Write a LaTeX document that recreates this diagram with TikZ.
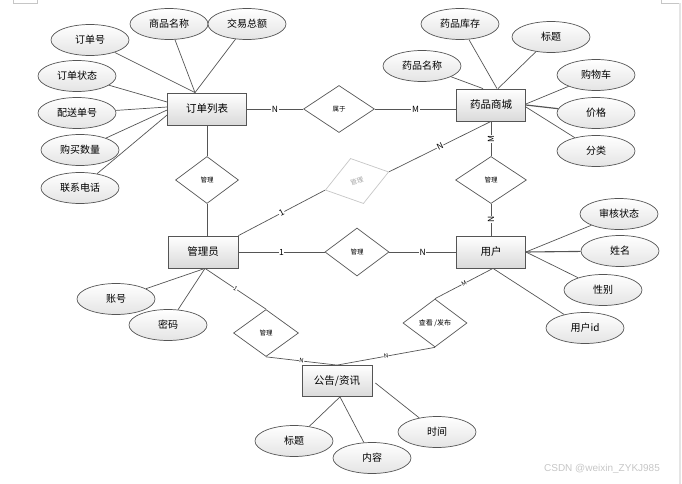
\documentclass[tikz,border=0pt]{standalone}
\usepackage{fontspec}
\setmainfont{Noto Sans CJK SC}
\newfontfamily\wmfont{Liberation Sans}
\usetikzlibrary{shapes.geometric,calc}
\definecolor{linec}{HTML}{555555}
\definecolor{boxb}{HTML}{DADADA}
\definecolor{ellb}{HTML}{E4E4E4}
\tikzset{
  ln/.style={draw=linec, line width=0.7pt},
  ent/.style={rectangle, draw=linec, line width=0.8pt, top color=white, bottom color=boxb, minimum width=70pt, minimum height=32pt, inner sep=0pt, font=\fontsize{10.5}{12}\selectfont},
  attr/.style={ellipse, draw=linec, line width=0.7pt, top color=white, bottom color=ellb, minimum width=78pt, minimum height=31pt, inner sep=0pt, font=\fontsize{10}{12}\selectfont},
  rel/.style={diamond, draw=linec, line width=0.7pt, fill=white, inner sep=0pt, font=\fontsize{6.5}{8}\selectfont},
  lbl/.style={fill=white, inner sep=0.6pt, font=\fontsize{8.5}{10}\selectfont},
  slbl/.style={fill=white, inner sep=0.3pt, font=\fontsize{6}{7}\selectfont},
}
\begin{document}
\begin{tikzpicture}[x=1pt,y=-1pt]
\useasboundingbox (0,0) rectangle (682,484);
% page marks
\draw[gray!45, line width=0.6pt] (13,0) -- (13,3) -- (37,3) -- (37,0);
\draw[gray!45, line width=0.6pt] (661,0) -- (661,3) -- (680,3);
\draw[gray!20, line width=1.2pt] (680,3) -- (680,484);

% entities
\node[ent, minimum width=79pt] (order) at (207,109) {订单列表};
\node[ent, minimum width=69pt] (mall) at (491,105) {药品商城};
\node[ent] (admin) at (203,252) {管理员};
\node[ent, minimum width=69pt] (user) at (491,252) {用户};
\node[ent, minimum height=31pt] (notice) at (337,381) {公告/资讯};

% relations
\node[rel, minimum width=71pt, minimum height=47pt] (rbelong) at (339,109) {属于};
\node[rel, minimum width=63pt, minimum height=47pt] (rmgr1) at (207,180) {管理};
\node[rel, minimum width=71pt, minimum height=47pt] (rmgr2) at (491,180) {管理};
\node[rel, draw=gray!45, text=gray!70, minimum width=66pt, minimum height=47pt, rotate=16] (rmgr3) at (357,181) {管理};
\node[rel, minimum width=64pt, minimum height=48pt] (rmgr4) at (357,252) {管理};
\node[rel, minimum width=65pt, minimum height=47pt] (rmgr5) at (266,333) {管理};
\node[rel, minimum width=64pt, minimum height=48pt, font=\fontsize{7}{8}\selectfont] (rview) at (435,323) {查看 /发布};

% attributes
\node[attr] (aoid) at (90,40) {订单号};
\node[attr] (aost) at (77,76) {订单状态};
\node[attr] (aship) at (77,113) {配送单号};
\node[attr] (aqty) at (80,150) {购买数量};
\node[attr] (atel) at (80,188) {联系电话};
\node[attr] (agname) at (169,24) {商品名称};
\node[attr] (atotal) at (247,24) {交易总额};
\node[attr] (mstock) at (460,24) {药品库存};
\node[attr] (mtitle) at (551,37) {标题};
\node[attr] (mname) at (422,66) {药品名称};
\node[attr] (mcart) at (596,75) {购物车};
\node[attr] (mprice) at (596,113) {价格};
\node[attr] (mcat) at (596,151) {分类};
\node[attr] (uaud) at (619,214) {审核状态};
\node[attr] (uname) at (620,251) {姓名};
\node[attr] (usex) at (603,290) {性别};
\node[attr] (uid) at (585,328) {用户id};
\node[attr] (adacc) at (116,299) {账号};
\node[attr] (adpwd) at (168,325) {密码};
\node[attr] (ntitle) at (294,441) {标题};
\node[attr] (ncont) at (372,458) {内容};
\node[attr] (ntime) at (437,432) {时间};

% attribute connectors
\coordinate (otop) at ($(order.north)+(-12,0)$);
\draw[ln] (aoid) -- (otop);
\draw[ln] (agname) -- (otop);
\draw[ln] (atotal) -- (otop);
\draw[ln] (aost) -- ($(order.west)+(0,-7)$);
\draw[ln] (aship) -- ($(order.west)+(0,-2)$);
\draw[ln] (aqty) -- ($(order.west)+(0,1)$);
\draw[ln] (atel) -- ($(order.west)+(0,6)$);

\draw[ln] (mname) -- ($(mall.north)+(-8,0)$);
\draw[ln] (mstock) -- ($(mall.north)+(6,0)$);
\draw[ln] (mtitle) -- ($(mall.north)+(7,0)$);
\draw[ln] (mcart) -- ($(mall.east)+(0,-1)$);
\draw[ln, line width=1.2pt] (mprice) -- (mall.east);
\draw[ln] (mcat) -- ($(mall.east)+(0,2)$);

\draw[ln] (uaud) -- (user.east);
\draw[ln, line width=1.1pt] (uname) -- (user.east);
\draw[ln] (usex) -- (user.east);
\coordinate (ubot) at ($(user.south)+(2,0)$);
\draw[ln] (uid) -- (ubot);

\coordinate (abot) at ($(admin.south)+(2,0)$);
\draw[ln] (adacc) -- (abot);
\draw[ln] (adpwd) -- (abot);

\coordinate (nbot) at ($(notice.south)+(3,0)$);
\draw[ln] (ntitle) -- (nbot);
\draw[ln] (ncont) -- (nbot);
\draw[ln] (ntime) -- ($(notice.east)+(3,2)$);

% relation connectors
\draw[ln] (order.east |- rbelong.west) -- node[lbl]{N} (rbelong.west);
\draw[ln] (rbelong.east) -- node[lbl]{M} (rbelong.east -| mall.west);
\draw[ln] (order.south -| rmgr1.north) -- (rmgr1.north);
\draw[ln] (rmgr1.south) -- (rmgr1.south |- admin.north);
\draw[ln] (mall.south) -- node[lbl, rotate=90]{M} (rmgr2.north);
\draw[ln] (rmgr2.south) -- node[lbl, rotate=90]{N} (user.north);
\draw[ln] (admin.north east) -- node[lbl, sloped]{1} (rmgr3.west);
\draw[ln] (rmgr3.east) -- node[lbl, sloped]{N} (mall.south);
\draw[ln] (admin.east) -- node[lbl]{1} (rmgr4.west);
\draw[ln] (rmgr4.east) -- node[lbl]{N} (user.west);
\draw[ln] (abot) -- node[slbl, sloped]{1} (rmgr5.north);
\draw[ln] (rmgr5.south) -- node[slbl, sloped]{N} (notice.north);
\draw[ln] (rview.south) -- node[slbl, sloped]{N} (notice.north);
\draw[ln] (ubot) -- node[slbl, sloped]{M} (rview.north);

% watermark
\node[text=gray!45, font=\wmfont\fontsize{10}{12}\selectfont] (wm) at (602,469) {CSDN @weixin\_ZYKJ985};
\end{tikzpicture}
\end{document}
